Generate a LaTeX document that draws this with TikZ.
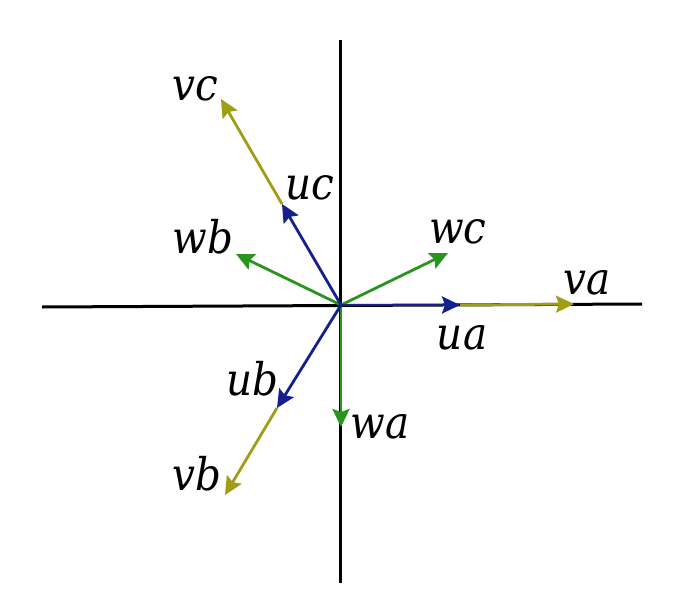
\documentclass[tikz,border=0pt]{standalone}
\usepackage{fontspec}
\setmainfont{DejaVu Serif Condensed}
\usetikzlibrary{arrows.meta}
\definecolor{vblue}{RGB}{22,32,140}
\definecolor{vgreen}{RGB}{42,148,30}
\definecolor{volive}{RGB}{160,158,22}
\tikzset{
  axis/.style={line width=3pt, black},
  vec/.style={line width=2.8pt, -{Stealth[length=18pt,width=17pt,inset=3pt]}},
  lbl/.style={font=\fontsize{45}{45}\selectfont\itshape, inner sep=0pt, anchor=base}
}
\begin{document}
\begin{tikzpicture}[x=1pt,y=-1pt]
\useasboundingbox (0,0) rectangle (679,599);
\fill[white] (0,0) rectangle (679,599);
% axes
\coordinate (L) at (42,307);
\coordinate (R) at (642,304);
\coordinate (T) at (340,40);
\coordinate (B) at (340,583);
\draw[axis] (L) -- (R);
\draw[axis] (T) -- (B);
% points
\coordinate (O) at (341,305);
\coordinate (ua) at (460,305);
\coordinate (va) at (574,304);
\coordinate (uc) at (282,204);
\coordinate (vc) at (221,99);
\coordinate (ub) at (277,408);
\coordinate (vb) at (225,495);
\coordinate (wa) at (341,427);
\coordinate (wb) at (236,254);
\coordinate (wc) at (448,253);
% vectors
\draw[vec, volive] (ua) -- (va);
\draw[vec, volive] (uc) -- (vc);
\draw[vec, volive] (ub) -- (vb);
\draw[vec, vgreen] (O) -- (wa);
\draw[vec, vgreen] (O) -- (wb);
\draw[vec, vgreen] (O) -- (wc);
\draw[vec, vblue] (O) -- (ua);
\draw[vec, vblue] (O) -- (uc);
\draw[vec, vblue] (O) -- (ub);
% labels
\node[lbl] (lvc) at (195,100) {vc};
\node[lbl] (luc) at (310,199) {uc};
\node[lbl] (lwc) at (458,243) {wc};
\node[lbl] (lva) at (587,294) {va};
\node[lbl] (lua) at (462,349) {ua};
\node[lbl] (lwb) at (203,253) {wb};
\node[lbl] (lub) at (252,395) {ub};
\node[lbl] (lwa) at (380,438) {wa};
\node[lbl] (lvb) at (197,490) {vb};
\end{tikzpicture}
\end{document}
